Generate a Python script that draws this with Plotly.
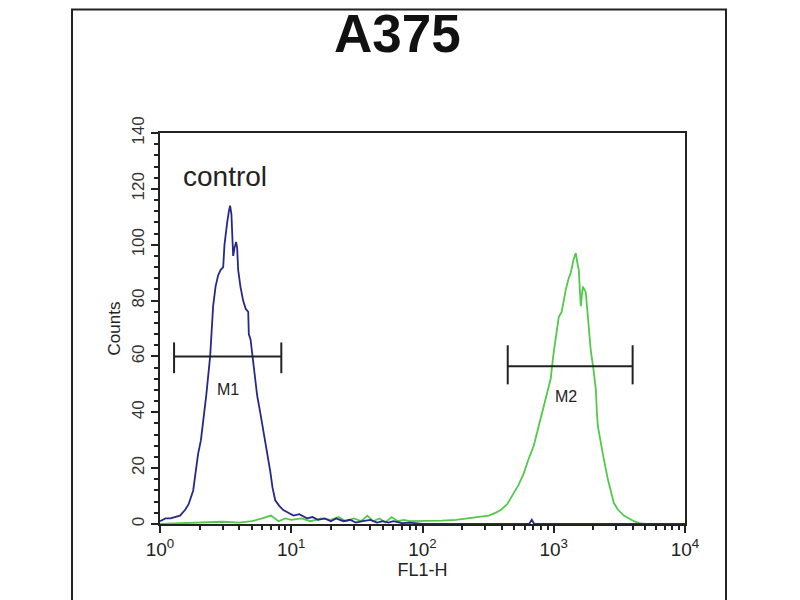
import math
import plotly.graph_objects as go

# ---- data ----
control_fl1 = [1.0, 1.1, 1.2, 1.3, 1.42, 1.55, 1.65, 1.79, 1.87, 1.95, 2.05, 2.13, 2.25, 2.41, 2.48,
               2.54, 2.65, 2.77, 2.9, 3.03, 3.1, 3.13, 3.2, 3.25, 3.35, 3.42, 3.5, 3.55, 3.61, 3.7,
               3.8, 3.87, 3.94, 4.1, 4.3, 4.5, 4.7, 4.75, 4.9, 5.13, 5.3, 5.5, 5.8, 6.11, 6.5,
               6.91, 7.2, 7.55, 8.1, 8.69, 9.5, 10.4, 11.5, 13.2, 14.5, 16, 18, 20, 22, 25,
               28, 31, 35, 40, 45, 50, 55, 60, 70, 80, 100, 650, 680, 710, 10000]
control_counts = [1, 2, 2, 2.5, 3, 5, 7, 12, 18, 25, 30, 36, 46, 60, 70,
                  78, 85, 89, 91, 92, 100, 102, 105, 108, 112, 114, 111, 106, 96, 99,
                  101, 99, 91, 85, 80, 77, 76, 68, 66, 58, 52, 46, 40, 34, 26,
                  19, 13, 8.5, 6.5, 5, 4, 3, 3.5, 2, 2.5, 1.5, 2, 1, 2, 1,
                  1.5, 0.5, 1, 1.5, 0.5, 1, 0.5, 1, 0.3, 0.5, 0, 0, 1.5, 0, 0]

sample_fl1 = [1, 1.5, 2, 3, 4, 5, 6, 7, 8, 9, 10, 12, 14, 17, 20, 23, 26, 30, 34, 38, 42, 47, 52,
              58, 65, 72, 80, 90, 110, 140, 180, 220, 250, 277, 320, 360, 394, 440, 495, 540,
              590, 640, 704, 760, 824, 880, 948, 990, 1035, 1091, 1150, 1236, 1300, 1349, 1420,
              1472, 1520, 1552, 1580, 1608, 1640, 1665, 1754, 1818, 1916, 2000, 2094, 2130,
              2168, 2367, 2584, 2871, 3100, 3423, 3700, 4080, 4500, 5000, 10000]
sample_counts = [0, 0.3, 0.5, 0.8, 0.5, 1, 2, 3, 1, 2, 1.5, 2, 1, 2, 1.5, 2.5, 1, 2, 1, 3, 1, 2, 0.5,
                 2.5, 1, 1.5, 1, 1, 1, 1.2, 1.5, 2, 2.5, 2.5, 3, 4, 5, 7, 11, 14,
                 18, 23, 28, 34, 40, 46, 52, 60, 66, 74, 76, 84, 88, 90, 95,
                 97, 93, 91, 84, 78, 82, 85, 83, 73, 62, 56, 48, 40,
                 35, 25, 16, 7.5, 5, 3, 2, 1, 0.3, 0, 0]

# gate markers
marker_names = ["M1", "M2"]
marker_left = [1.28, 446]
marker_right = [8.4, 3990]
marker_level = [60, 56.5]
marker_cap_low = [54, 50]
marker_cap_high = [65, 64]
marker_label_x = [3.3, 1236]
marker_label_y = [48, 45.5]

x_tick_vals = [1, 10, 100, 1000, 10000]
x_tick_text = ["10<sup>0</sup>", "10<sup>1</sup>", "10<sup>2</sup>", "10<sup>3</sup>", "10<sup>4</sup>"]
y_tick_vals = [0, 20, 40, 60, 80, 100, 120, 140]

FONT = "Arial, Liberation Sans, sans-serif"

# plot-area pixel geometry (page offset of 8px accounted in margins)
L, T, W, H = 152, 125, 525, 391

fig = go.Figure()
fig.add_trace(go.Scatter(x=sample_fl1, y=sample_counts, mode="lines",
                         line=dict(color="#52c94a", width=1.8), hoverinfo="skip"))
fig.add_trace(go.Scatter(x=control_fl1, y=control_counts, mode="lines",
                         line=dict(color="#27288a", width=1.8), hoverinfo="skip"))

for i, name in enumerate(marker_names):
    l, r, lev = marker_left[i], marker_right[i], marker_level[i]
    lo, hi = marker_cap_low[i], marker_cap_high[i]
    fig.add_trace(go.Scatter(x=[l, l, None, l, r, None, r, r],
                             y=[lo, hi, None, lev, lev, None, lo, hi],
                             mode="lines", line=dict(color="#222", width=2), hoverinfo="skip"))
    fig.add_annotation(x=math.log10(marker_label_x[i]), y=marker_label_y[i], text=name,
                       showarrow=False, yanchor="middle",
                       font=dict(family=FONT, size=16, color="#222"))

def px(xp):
    return (xp - 160) / W

def py(yp):
    return (524 - yp) / H

fig.add_annotation(x=px(397), y=py(33), xref="paper", yref="paper",
                   text="<b>A375</b>", showarrow=False, xanchor="center", yanchor="middle",
                   font=dict(family=FONT, size=53, color="#111"))
fig.add_annotation(x=px(181), y=py(176), xref="paper", yref="paper",
                   text="control", showarrow=False, xanchor="left", yanchor="middle",
                   font=dict(family=FONT, size=28, color="#222"))

# outer frame
fig.add_shape(type="rect", xref="paper", yref="paper",
              x0=px(72), x1=px(726), y0=py(620), y1=py(9.5),
              line=dict(color="#222", width=2), layer="below")

fig.update_layout(
    width=800, height=600,
    margin=dict(l=L, r=800 - L - W, t=T, b=600 - T - H),
    paper_bgcolor="white", plot_bgcolor="white",
    showlegend=False,
    font=dict(family=FONT, color="#222"),
    xaxis=dict(type="log", range=[0, 4], tickvals=x_tick_vals, ticktext=x_tick_text,
               ticks="outside", ticklen=7, tickwidth=2, tickcolor="#222",
               showline=True, linecolor="#222", linewidth=2, mirror=True,
               showgrid=False, zeroline=False,
               tickfont=dict(family=FONT, size=19, color="#222"),
               minor=dict(ticks="outside", ticklen=4, tickwidth=1.5, tickcolor="#222",
                          tickvals=[d * 10 ** e for e in range(4) for d in range(2, 10)]),
               title=dict(text="FL1-H", font=dict(family=FONT, size=18, color="#222"), standoff=4)),
    yaxis=dict(range=[0, 140], tickvals=y_tick_vals, tickangle=-90,
               ticks="outside", ticklen=7, tickwidth=2, tickcolor="#222",
               showline=True, linecolor="#222", linewidth=2, mirror=True,
               showgrid=False, zeroline=False,
               tickfont=dict(family=FONT, size=17, color="#333"),
               minor=dict(ticks="outside", ticklen=4, tickwidth=1.5, tickcolor="#222", dtick=4),
               title=dict(text="Counts", font=dict(family=FONT, size=17, color="#222"), standoff=4)),
)

fig.write_html("out.html")
